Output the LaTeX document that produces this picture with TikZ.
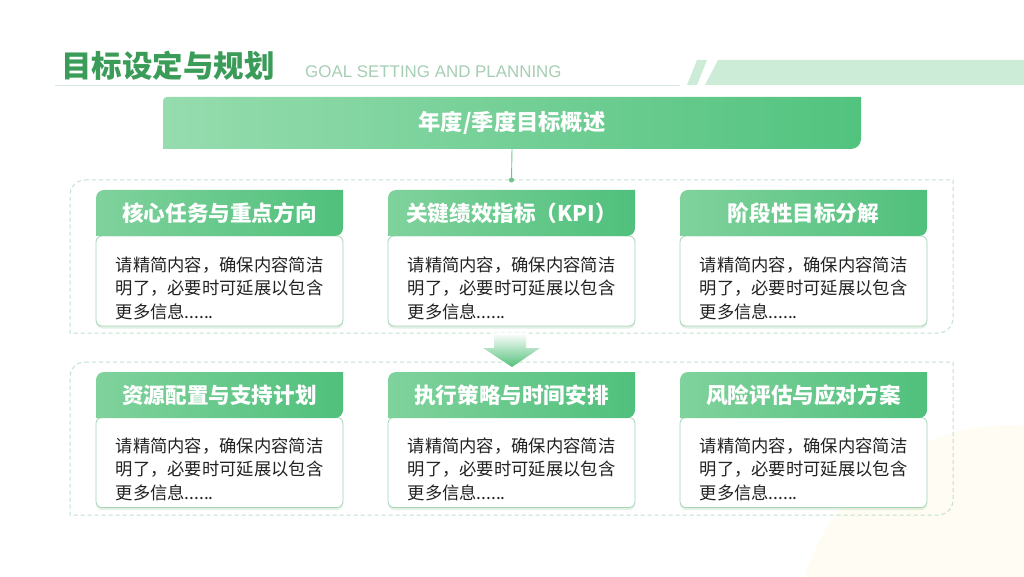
\documentclass[tikz,border=0pt]{standalone}
\usepackage{fontspec}
\setmainfont{Noto Sans CJK SC}
\newfontfamily\latinfont{Liberation Sans}
\usetikzlibrary{calc,shadows}
\definecolor{titlegreen}{RGB}{58,156,88}
\definecolor{goalgray}{RGB}{166,206,180}
\definecolor{rulegreen}{RGB}{214,234,221}
\definecolor{bandgreen}{RGB}{204,236,215}
\definecolor{barleft}{RGB}{150,220,174}
\definecolor{barright}{RGB}{82,195,127}
\definecolor{hdrleft}{RGB}{128,210,156}
\definecolor{hdrright}{RGB}{80,192,124}
\definecolor{dashgreen}{RGB}{190,224,204}
\definecolor{linkgreen}{RGB}{110,198,140}
\definecolor{bodyborder}{RGB}{160,214,180}
\definecolor{bodytext}{RGB}{34,34,34}
\definecolor{softyellow}{RGB}{255,253,243}
\definecolor{arrowgreen}{RGB}{84,192,122}
\newcommand{\tlbrshape}[4]{%
  \path[#1] ([xshift=#3]#2.north west) -- (#2.north east)
    -- ([yshift=#4]#2.south east) arc[start angle=0,end angle=-90,radius=#4]
    -- (#2.south west) -- ([yshift=-#3]#2.north west)
    arc[start angle=180,end angle=90,radius=#3] -- cycle;}
\tikzset{
  frame/.style={inner sep=0pt, outer sep=0pt, draw=none},
  hdrfill/.style={left color=hdrleft, right color=hdrright},
  hdrtext/.style={text=white, font=\fontsize{21.6}{25}\selectfont\bfseries, inner sep=0pt},
  bodybox/.style={draw=bodyborder, line width=0.8pt, fill=white, rounded corners=6pt,
    minimum width=247pt, minimum height=90pt, inner sep=0pt,
    drop shadow={shadow xshift=0pt, shadow yshift=-2.5pt, opacity=0.10, fill=green!40!black}},
  bodytxt/.style={text=bodytext, align=left, font=\fontsize{17.3}{23.5}\selectfont, inner sep=0pt},
  dashbox/.style={draw=dashgreen, line width=1pt, dash pattern=on 4pt off 3pt}
}
\begin{document}
\begin{tikzpicture}[x=1pt,y=1pt]
\useasboundingbox (0,0) rectangle (1024,576);
\begin{scope}
  \clip (0,0) rectangle (1024,576);
  \fill[softyellow] (1010,-64) circle (215);
\end{scope}
% title area
\node[anchor=west, inner sep=0pt, font=\fontsize{30.5}{34}\selectfont\bfseries, text=titlegreen] (title) at (61,510) {目标设定与规划};
\node[anchor=west, inner sep=0pt, font=\latinfont\fontsize{16.9}{19}\selectfont, text=goalgray] (sub) at (305,504) {GOAL SETTING AND PLANNING};
\draw[rulegreen, line width=1pt] (55,490) -- (680,490);
\fill[bandgreen] (687,491) -- (697,516) -- (707,516) -- (697,491) -- cycle;
\fill[bandgreen] (705,491) -- (718,516) -- (1024,516) -- (1024,491) -- cycle;
% top bar
\node[frame, minimum width=698pt, minimum height=52pt] (top) at (512,453) {};
\tlbrshape{left color=barleft, right color=barright}{top}{4pt}{10pt}
\node[hdrtext, font=\fontsize{22.3}{26}\selectfont\bfseries] (toptxt) at (top) {年度/季度目标概述};
% dashed groups
\node[frame, minimum width=883pt, minimum height=153pt] (g1) at (511.5,319.5) {};
\node[frame, minimum width=883pt, minimum height=153pt] (g2) at (511.5,137.5) {};
\tlbrshape{dashbox}{g1}{15pt}{15pt}
\tlbrshape{dashbox}{g2}{15pt}{15pt}
% connector
\draw[linkgreen, line width=0.9pt] (top.south) -- (g1.north);
\fill[linkgreen] (g1.north) circle (2.6);
% arrow between groups
\shade[top color=white, bottom color=arrowgreen]
  (494,243) -- (526,243) -- (526,228) -- (540,228) -- (512,209) -- (483,228) -- (494,228) -- cycle;
% cards
\foreach \cx/\nm/\hdtext/\rw in {219.5/a/核心任务与重点方向/1, 511.5/b/关键绩效指标（KPI）/1, 803.5/c/阶段性目标分解/1,
  219.5/d/资源配置与支持计划/2, 511.5/e/执行策略与时间安排/2, 803.5/f/风险评估与应对方案/2}{
  \ifnum\rw=1
    \def\hdy{363}\def\bdy{295}\def\txy{288}
  \else
    \def\hdy{181}\def\bdy{113.5}\def\txy{107}
  \fi
  \node[bodybox] (body\nm) at (\cx,\bdy) {};
  \node[frame, minimum width=247pt, minimum height=46pt] (hdr\nm) at (\cx,\hdy) {};
  \tlbrshape{hdrfill}{hdr\nm}{8pt}{8pt}
  \node[hdrtext] (hdrtxt\nm) at (hdr\nm) {\hdtext};
  \node[bodytxt] (txt\nm) at (\cx,\txy) {请精简内容，确保内容简洁\\明了，必要时可延展以包含\\更多信息......};
}
\end{tikzpicture}
\end{document}
